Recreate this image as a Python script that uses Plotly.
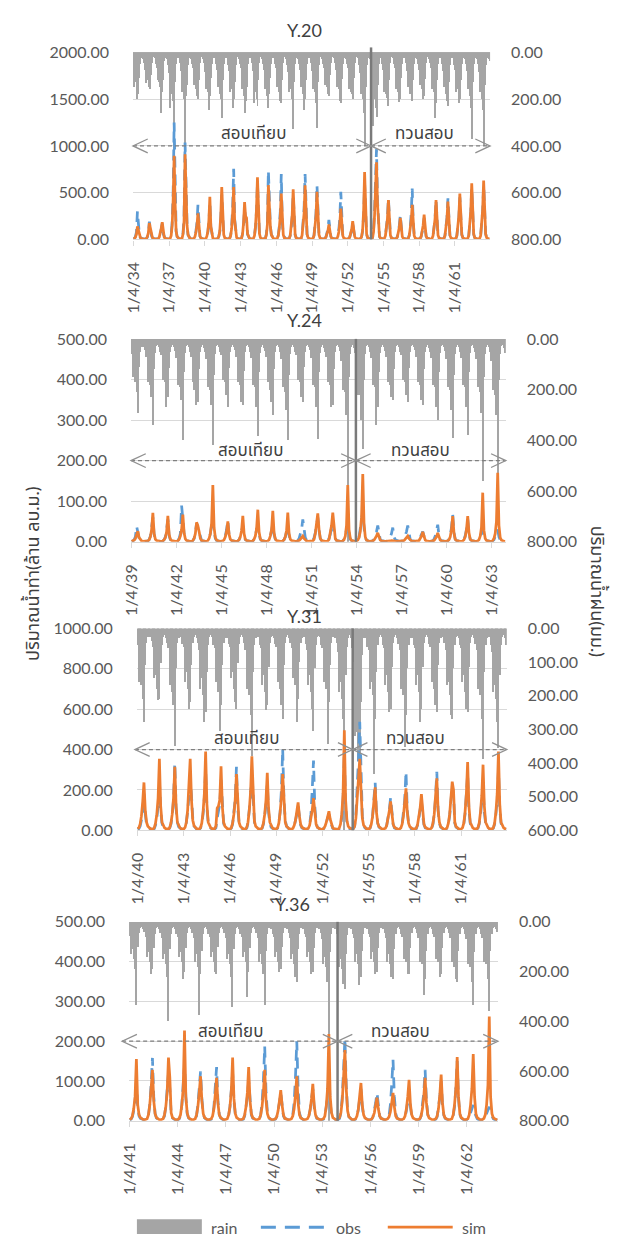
import plotly.graph_objects as go

W, H = 617, 1245

# ======================= DATA (monthly, water year Apr..Mar) =======================
# ---- Y.20 : 1/4/34 .. 3/64 ----
Y20_START = 34
Y20_RAIN = [
    [80, 150, 110, 130, 200, 180, 110, 50, 25, 20, 28, 45],
    [75, 134, 100, 120, 150, 160, 100, 45, 22, 18, 26, 50],
    [70, 120, 130, 150, 260, 170, 120, 40, 24, 20, 30, 55],
    [90, 239, 140, 180, 210, 442, 130, 50, 25, 18, 26, 45],
    [80, 170, 150, 200, 435, 190, 140, 55, 24, 20, 28, 50],
    [70, 140, 120, 160, 190, 200, 120, 45, 22, 19, 30, 45],
    [85, 160, 130, 170, 246, 190, 110, 50, 25, 20, 27, 50],
    [75, 150, 140, 180, 200, 281, 120, 50, 24, 18, 26, 55],
    [80, 170, 150, 160, 239, 200, 130, 55, 23, 20, 29, 50],
    [70, 160, 130, 190, 260, 210, 150, 50, 25, 19, 27, 48],
    [80, 218, 140, 170, 200, 230, 120, 45, 23, 20, 28, 52],
    [75, 160, 120, 190, 240, 180, 110, 50, 24, 21, 26, 50],
    [70, 150, 130, 170, 210, 220, 120, 48, 23, 20, 30, 55],
    [85, 170, 140, 160, 200, 330, 130, 52, 25, 20, 28, 50],
    [75, 150, 120, 180, 246, 200, 120, 50, 24, 19, 27, 45],
    [80, 160, 150, 170, 220, 323, 130, 55, 23, 20, 29, 50],
    [70, 140, 110, 150, 180, 190, 100, 45, 23, 20, 26, 48],
    [75, 150, 130, 160, 210, 220, 115, 50, 24, 21, 28, 50],
    [70, 160, 120, 170, 180, 200, 110, 48, 23, 20, 27, 55],
    [90, 180, 140, 200, 260, 400, 150, 55, 25, 20, 30, 80],
    [100, 316, 150, 200, 240, 280, 140, 50, 24, 20, 28, 50],
    [75, 170, 130, 180, 195, 230, 120, 48, 23, 20, 26, 50],
    [70, 160, 120, 170, 215, 200, 110, 50, 24, 19, 27, 45],
    [80, 150, 130, 180, 180, 210, 120, 52, 25, 20, 29, 50],
    [75, 140, 120, 160, 200, 190, 115, 48, 23, 20, 28, 48],
    [70, 160, 130, 170, 281, 220, 120, 50, 24, 20, 26, 50],
    [80, 150, 140, 180, 210, 230, 130, 55, 25, 21, 27, 55],
    [75, 170, 130, 160, 220, 200, 120, 50, 24, 20, 28, 50],
    [80, 160, 150, 190, 240, 372, 130, 52, 25, 20, 29, 50],
    [85, 170, 140, 200, 250, 400, 140, 55, 24, 20, 28, 40],
]
Y20_OBS = [
    [5, 10, 30, 80, 300, 100, 40, 18, 10, 6, 4, 3],
    [4, 8, 25, 60, 190, 100, 45, 20, 10, 6, 4, 3],
    [4, 9, 25, 55, 110, 170, 60, 22, 10, 6, 4, 3],
    [5, 12, 50, 180, 500, 1250, 400, 90, 30, 15, 8, 6],
    [6, 14, 70, 250, 1035, 450, 160, 50, 20, 10, 7, 5],
    [5, 10, 30, 90, 180, 370, 120, 35, 15, 8, 5, 4],
    [4, 9, 30, 80, 180, 400, 130, 40, 15, 8, 5, 4],
    [4, 10, 30, 80, 220, 480, 160, 45, 18, 9, 6, 4],
    [5, 12, 45, 140, 350, 755, 220, 60, 20, 10, 6, 5],
    [6, 15, 60, 170, 315, 230, 200, 55, 20, 10, 6, 5],
    [5, 12, 40, 130, 300, 600, 200, 55, 20, 10, 6, 5],
    [5, 12, 60, 180, 735, 300, 140, 50, 18, 10, 6, 5],
    [5, 12, 45, 140, 300, 700, 180, 55, 18, 10, 6, 5],
    [5, 12, 40, 120, 240, 480, 160, 50, 18, 10, 6, 5],
    [5, 12, 45, 160, 330, 700, 200, 55, 20, 10, 6, 5],
    [5, 12, 45, 140, 280, 580, 180, 50, 18, 10, 6, 5],
    [5, 10, 25, 60, 110, 210, 80, 30, 12, 8, 5, 4],
    [4, 10, 35, 100, 230, 510, 150, 40, 15, 8, 5, 4],
    [4, 9, 25, 55, 100, 170, 80, 30, 12, 8, 5, 4],
    [4, 10, 30, 90, 250, 600, 220, 55, 20, 10, 6, 5],
    [6, 20, 90, 300, 550, 965, 420, 110, 30, 15, 8, 6],
    [5, 12, 40, 120, 230, 440, 150, 45, 18, 10, 6, 5],
    [4, 10, 30, 80, 150, 260, 110, 30, 12, 8, 5, 4],
    [5, 12, 45, 130, 280, 545, 180, 45, 15, 8, 5, 4],
    [4, 10, 30, 70, 130, 230, 100, 35, 14, 8, 5, 4],
    [5, 12, 40, 120, 220, 420, 150, 45, 18, 10, 6, 5],
    [5, 12, 40, 120, 230, 440, 150, 45, 18, 10, 6, 5],
    [5, 12, 40, 120, 230, 450, 160, 50, 20, 10, 6, 5],
    [5, 12, 40, 130, 280, 550, 190, 55, 20, 10, 6, 5],
    [5, 12, 40, 140, 300, 580, 200, 60, 20, 10, 6, 5],
]
Y20_SIM = [
    [6, 10, 25, 55, 140, 95, 45, 20, 10, 6, 4, 3],
    [4, 8, 30, 70, 175, 110, 50, 22, 10, 6, 4, 3],
    [4, 9, 25, 60, 120, 185, 70, 25, 12, 7, 4, 3],
    [5, 12, 40, 150, 420, 895, 380, 90, 30, 15, 8, 6],
    [6, 14, 60, 200, 910, 430, 150, 50, 20, 10, 7, 5],
    [5, 10, 30, 80, 150, 280, 110, 35, 15, 8, 5, 4],
    [4, 9, 35, 90, 200, 455, 140, 40, 15, 8, 5, 4],
    [4, 10, 30, 90, 250, 560, 180, 50, 18, 9, 6, 4],
    [5, 12, 40, 120, 290, 560, 200, 60, 20, 10, 6, 5],
    [6, 15, 60, 180, 400, 250, 230, 60, 20, 10, 6, 5],
    [5, 12, 40, 140, 320, 665, 220, 60, 20, 10, 6, 5],
    [5, 12, 50, 160, 580, 280, 140, 50, 18, 10, 6, 5],
    [5, 12, 40, 120, 250, 490, 160, 50, 18, 10, 6, 5],
    [5, 12, 40, 130, 260, 535, 170, 50, 18, 10, 6, 5],
    [5, 12, 45, 150, 280, 580, 190, 55, 20, 10, 6, 5],
    [5, 12, 40, 120, 250, 510, 170, 50, 18, 10, 6, 5],
    [5, 10, 25, 50, 90, 160, 75, 30, 12, 8, 5, 4],
    [4, 10, 30, 80, 170, 330, 130, 40, 15, 8, 5, 4],
    [4, 9, 25, 60, 110, 195, 90, 30, 12, 8, 5, 4],
    [4, 10, 30, 100, 300, 720, 250, 60, 20, 10, 6, 5],
    [6, 20, 80, 250, 460, 825, 380, 100, 30, 15, 8, 6],
    [5, 12, 40, 120, 220, 420, 150, 45, 18, 10, 6, 5],
    [4, 10, 25, 70, 130, 230, 100, 30, 12, 8, 5, 4],
    [5, 12, 40, 100, 200, 370, 140, 40, 15, 8, 5, 4],
    [4, 10, 30, 80, 150, 265, 110, 35, 14, 8, 5, 4],
    [5, 12, 40, 120, 220, 420, 150, 45, 18, 10, 6, 5],
    [5, 12, 40, 120, 220, 405, 150, 45, 18, 10, 6, 5],
    [5, 12, 40, 130, 250, 490, 170, 50, 20, 10, 6, 5],
    [5, 12, 40, 140, 300, 600, 200, 55, 20, 10, 6, 5],
    [5, 12, 40, 150, 320, 630, 210, 60, 20, 10, 6, 5],
]

# ---- Y.24 : 1/4/39 .. 3/64 ----
Y24_START = 39
Y24_RAIN = [
    [60, 150, 120, 170, 210, 290, 110, 50, 30, 25, 32, 45],
    [70, 170, 140, 180, 230, 340, 120, 55, 28, 24, 30, 50],
    [65, 160, 130, 170, 270, 230, 115, 50, 30, 25, 32, 48],
    [75, 180, 150, 190, 240, 400, 130, 55, 28, 24, 30, 50],
    [70, 170, 200, 180, 260, 250, 120, 52, 30, 25, 34, 52],
    [80, 190, 160, 200, 260, 417, 140, 58, 29, 24, 30, 50],
    [65, 160, 140, 170, 220, 270, 115, 50, 30, 25, 32, 45],
    [70, 170, 150, 180, 250, 260, 125, 52, 28, 24, 30, 50],
    [75, 180, 160, 190, 270, 383, 130, 55, 30, 25, 34, 48],
    [70, 170, 150, 200, 250, 300, 120, 52, 29, 24, 30, 50],
    [80, 190, 170, 210, 280, 400, 140, 58, 30, 25, 32, 52],
    [65, 160, 140, 170, 230, 250, 110, 50, 28, 24, 30, 45],
    [75, 180, 160, 190, 270, 395, 130, 55, 30, 25, 34, 50],
    [70, 170, 150, 180, 270, 260, 120, 52, 29, 24, 30, 48],
    [85, 200, 170, 210, 300, 800, 150, 60, 30, 25, 35, 55],
    [90, 220, 180, 220, 320, 435, 160, 60, 28, 24, 30, 50],
    [75, 180, 160, 190, 340, 270, 130, 55, 30, 25, 32, 48],
    [70, 170, 150, 180, 230, 240, 120, 52, 29, 24, 30, 50],
    [65, 160, 140, 170, 220, 250, 115, 50, 28, 25, 32, 45],
    [70, 170, 150, 180, 240, 260, 120, 52, 30, 24, 34, 50],
    [75, 180, 160, 190, 270, 320, 130, 55, 29, 25, 30, 48],
    [80, 190, 170, 200, 280, 390, 140, 58, 30, 24, 32, 50],
    [75, 180, 160, 190, 270, 380, 130, 55, 28, 25, 34, 52],
    [80, 190, 170, 210, 290, 560, 150, 60, 30, 24, 30, 50],
    [85, 200, 180, 220, 300, 534, 160, 60, 29, 25, 35, 55],
]
Y24_OBS = [
    [1, 2, 5, 12, 38, 20, 8, 3, 2, 1, 1, 1],
    [1, 2, 5, 14, 35, 60, 18, 6, 3, 2, 1, 1],
    [1, 2, 5, 12, 30, 55, 15, 5, 3, 2, 1, 1],
    [1, 3, 8, 20, 89, 50, 20, 7, 3, 2, 1, 1],
    [1, 3, 8, 22, 45, 35, 22, 8, 3, 2, 1, 1],
    [1, 3, 8, 20, 40, 60, 25, 8, 3, 2, 1, 1],
    [1, 2, 6, 14, 30, 52, 16, 6, 3, 2, 1, 1],
    [1, 2, 5, 12, 25, 40, 15, 5, 3, 2, 1, 1],
    [1, 2, 6, 15, 30, 40, 20, 6, 3, 2, 1, 1],
    [1, 2, 6, 14, 28, 45, 18, 6, 3, 2, 1, 1],
    [1, 2, 5, 12, 25, 40, 16, 5, 3, 2, 1, 1],
    [1, 3, 8, 20, 30, 55, 25, 10, 4, 2, 1, 1],
    [1, 3, 10, 22, 40, 60, 28, 8, 3, 2, 1, 1],
    [1, 3, 8, 18, 35, 50, 25, 8, 3, 2, 1, 1],
    [1, 2, 6, 15, 30, 45, 20, 6, 3, 2, 1, 1],
    [2, 5, 12, 30, 55, 75, 35, 10, 4, 2, 1, 1],
    [1, 2, 6, 15, 25, 40, 15, 5, 3, 2, 1, 1],
    [1, 2, 5, 12, 20, 35, 12, 5, 3, 2, 1, 1],
    [1, 2, 6, 14, 25, 40, 15, 5, 3, 2, 1, 1],
    [1, 2, 5, 10, 18, 25, 10, 4, 2, 1, 1, 1],
    [1, 2, 6, 14, 28, 42, 15, 5, 3, 2, 1, 1],
    [1, 2, 6, 15, 35, 67, 22, 6, 3, 2, 1, 1],
    [1, 2, 6, 15, 30, 55, 20, 6, 3, 2, 1, 1],
    [1, 2, 5, 12, 20, 30, 12, 5, 3, 2, 1, 1],
    [1, 2, 5, 12, 20, 30, 12, 5, 3, 2, 1, 1],
]
Y24_SIM = [
    [1, 2, 4, 8, 15, 26, 10, 4, 2, 1, 1, 1],
    [1, 2, 5, 12, 30, 71, 20, 6, 3, 2, 1, 1],
    [1, 2, 5, 10, 25, 64, 18, 6, 3, 2, 1, 1],
    [1, 2, 6, 14, 30, 67, 22, 7, 3, 2, 1, 1],
    [1, 3, 8, 20, 48, 40, 25, 8, 3, 2, 1, 1],
    [1, 3, 8, 20, 45, 140, 35, 10, 4, 2, 1, 1],
    [1, 2, 5, 12, 25, 50, 18, 6, 3, 2, 1, 1],
    [1, 2, 5, 12, 28, 64, 20, 6, 3, 2, 1, 1],
    [1, 2, 6, 14, 32, 79, 24, 7, 3, 2, 1, 1],
    [1, 2, 5, 14, 30, 76, 22, 7, 3, 2, 1, 1],
    [1, 2, 5, 12, 28, 72, 20, 6, 3, 2, 1, 1],
    [1, 2, 3, 6, 10, 14, 8, 4, 2, 1, 1, 1],
    [1, 2, 6, 20, 45, 70, 30, 8, 3, 2, 1, 1],
    [1, 2, 6, 20, 40, 72, 38, 8, 3, 2, 1, 1],
    [1, 2, 5, 14, 40, 140, 30, 8, 3, 2, 1, 1],
    [2, 4, 10, 25, 60, 167, 45, 12, 4, 2, 1, 1],
    [1, 2, 4, 8, 14, 22, 10, 4, 2, 1, 1, 1],
    [1, 1, 2, 2, 3, 3, 2, 1, 1, 1, 1, 1],
    [1, 2, 3, 6, 10, 14, 8, 4, 2, 1, 1, 1],
    [1, 2, 3, 7, 14, 24, 10, 4, 2, 1, 1, 1],
    [1, 2, 3, 7, 12, 22, 9, 4, 2, 1, 1, 1],
    [1, 2, 5, 12, 30, 63, 22, 6, 3, 2, 1, 1],
    [1, 2, 5, 12, 30, 63, 22, 6, 3, 2, 1, 1],
    [1, 2, 5, 14, 35, 121, 28, 8, 3, 2, 1, 1],
    [1, 3, 8, 20, 50, 170, 40, 10, 4, 2, 1, 1],
]

# ---- Y.31 : 1/4/40 .. 3/64 ----
Y31_START = 40
Y31_RAIN = [
    [50, 160, 130, 170, 210, 278, 110, 45, 28, 22, 28, 40],
    [55, 150, 140, 180, 213, 210, 105, 50, 27, 21, 30, 45],
    [60, 170, 150, 190, 230, 351, 120, 45, 29, 23, 27, 48],
    [55, 160, 130, 180, 240, 220, 110, 46, 28, 22, 29, 45],
    [65, 180, 150, 200, 280, 250, 130, 50, 27, 21, 28, 50],
    [60, 160, 140, 190, 307, 230, 110, 45, 30, 23, 30, 48],
    [55, 150, 130, 180, 220, 240, 105, 47, 28, 22, 27, 45],
    [65, 180, 160, 200, 260, 380, 130, 50, 29, 21, 28, 50],
    [60, 170, 140, 190, 243, 230, 115, 45, 27, 23, 29, 48],
    [55, 160, 150, 180, 230, 270, 110, 46, 28, 22, 30, 45],
    [60, 150, 130, 170, 280, 210, 100, 45, 30, 21, 27, 48],
    [65, 170, 140, 190, 240, 307, 120, 50, 28, 23, 28, 50],
    [60, 160, 130, 180, 345, 220, 110, 45, 27, 22, 29, 45],
    [70, 190, 160, 210, 270, 600, 140, 55, 29, 22, 30, 60],
    [100, 320, 260, 310, 395, 440, 220, 80, 30, 23, 31, 55],
    [65, 180, 160, 200, 434, 270, 130, 50, 28, 21, 28, 50],
    [60, 170, 140, 190, 250, 240, 115, 45, 27, 22, 29, 48],
    [65, 180, 150, 200, 355, 260, 120, 50, 29, 23, 30, 50],
    [60, 170, 140, 190, 280, 240, 115, 46, 28, 22, 27, 48],
    [55, 160, 150, 180, 230, 250, 110, 45, 30, 21, 28, 45],
    [65, 170, 160, 200, 260, 270, 120, 50, 28, 23, 29, 50],
    [60, 160, 140, 190, 240, 250, 115, 45, 27, 22, 30, 48],
    [65, 180, 160, 200, 270, 390, 130, 50, 29, 21, 28, 50],
    [70, 190, 170, 210, 280, 356, 140, 50, 28, 22, 29, 50],
]
Y31_OBS = [
    [5, 8, 20, 50, 100, 180, 80, 30, 15, 10, 6, 4],
    [5, 8, 25, 60, 120, 250, 100, 35, 15, 10, 6, 4],
    [5, 10, 30, 70, 150, 333, 110, 40, 18, 10, 6, 4],
    [5, 10, 40, 90, 180, 250, 170, 60, 20, 10, 6, 4],
    [5, 10, 30, 80, 160, 300, 110, 40, 18, 10, 6, 4],
    [5, 12, 60, 90, 130, 250, 100, 35, 15, 10, 6, 4],
    [5, 10, 30, 80, 150, 314, 110, 40, 18, 10, 6, 4],
    [5, 10, 35, 90, 170, 300, 120, 40, 18, 10, 6, 4],
    [5, 10, 30, 70, 130, 230, 90, 35, 15, 10, 6, 4],
    [5, 10, 35, 90, 200, 403, 150, 50, 20, 10, 6, 4],
    [5, 8, 20, 45, 80, 120, 60, 25, 12, 8, 5, 4],
    [5, 10, 30, 80, 200, 346, 120, 40, 15, 8, 5, 4],
    [5, 8, 20, 40, 60, 80, 45, 20, 10, 6, 5, 4],
    [5, 8, 25, 60, 150, 380, 120, 40, 15, 8, 6, 4],
    [8, 20, 80, 200, 350, 537, 250, 70, 25, 12, 8, 6],
    [5, 10, 30, 70, 140, 236, 90, 35, 15, 8, 6, 4],
    [5, 8, 25, 60, 100, 160, 70, 30, 12, 8, 5, 4],
    [5, 10, 30, 80, 150, 290, 100, 35, 15, 8, 6, 4],
    [5, 8, 25, 55, 95, 150, 70, 28, 12, 8, 5, 4],
    [5, 10, 30, 80, 160, 290, 100, 35, 15, 8, 6, 4],
    [5, 10, 30, 70, 130, 220, 180, 35, 15, 8, 6, 4],
    [5, 10, 30, 80, 160, 280, 100, 35, 15, 8, 6, 4],
    [5, 10, 30, 70, 130, 220, 90, 35, 15, 8, 6, 4],
    [5, 10, 30, 80, 150, 300, 110, 35, 15, 8, 6, 4],
]
Y31_SIM = [
    [8, 12, 30, 70, 140, 237, 100, 40, 20, 12, 8, 6],
    [6, 12, 35, 80, 160, 354, 120, 40, 20, 12, 8, 6],
    [6, 12, 35, 80, 160, 314, 120, 40, 20, 12, 8, 6],
    [6, 14, 40, 100, 200, 354, 150, 50, 22, 12, 8, 6],
    [6, 12, 35, 90, 180, 390, 130, 40, 20, 12, 8, 6],
    [8, 20, 110, 120, 150, 317, 120, 40, 20, 12, 8, 6],
    [6, 12, 35, 80, 150, 278, 110, 40, 20, 12, 8, 6],
    [6, 14, 40, 100, 190, 366, 140, 45, 20, 12, 8, 6],
    [6, 12, 35, 80, 150, 285, 110, 40, 20, 12, 8, 6],
    [6, 12, 35, 90, 160, 278, 120, 40, 20, 12, 8, 6],
    [6, 10, 25, 50, 90, 138, 70, 30, 15, 10, 7, 5],
    [6, 10, 25, 55, 100, 159, 80, 30, 15, 10, 7, 5],
    [5, 10, 20, 40, 70, 94, 55, 25, 12, 8, 6, 5],
    [5, 10, 30, 80, 180, 496, 150, 50, 20, 12, 8, 6],
    [8, 20, 60, 150, 250, 354, 200, 60, 25, 14, 9, 7],
    [6, 12, 30, 70, 130, 213, 90, 35, 18, 10, 7, 5],
    [6, 10, 25, 55, 95, 143, 70, 30, 15, 10, 7, 5],
    [6, 12, 30, 70, 125, 208, 90, 35, 18, 10, 7, 5],
    [6, 10, 28, 60, 110, 179, 80, 30, 15, 10, 7, 5],
    [6, 12, 35, 80, 150, 257, 100, 40, 18, 10, 7, 5],
    [6, 12, 35, 80, 150, 241, 200, 40, 18, 10, 7, 5],
    [6, 12, 35, 90, 180, 338, 120, 40, 20, 12, 8, 6],
    [6, 12, 35, 90, 170, 325, 120, 40, 20, 12, 8, 6],
    [6, 12, 35, 90, 180, 390, 130, 40, 20, 12, 8, 6],
]

# ---- Y.36 : 1/4/41 .. 3/64 ----
Y36_START = 41
Y36_RAIN = [
    [55, 130, 110, 150, 190, 333, 100, 45, 25, 20, 28, 40],
    [60, 140, 120, 160, 210, 190, 105, 48, 26, 19, 27, 45],
    [65, 150, 130, 170, 220, 399, 110, 50, 25, 21, 29, 48],
    [60, 140, 120, 160, 230, 200, 105, 45, 24, 20, 28, 45],
    [65, 160, 130, 180, 372, 210, 115, 50, 26, 19, 27, 50],
    [60, 140, 120, 160, 200, 210, 100, 45, 25, 21, 28, 45],
    [65, 150, 130, 170, 220, 340, 110, 48, 24, 20, 29, 48],
    [60, 140, 120, 160, 300, 200, 105, 45, 26, 19, 27, 45],
    [65, 160, 130, 170, 210, 333, 115, 50, 25, 21, 28, 50],
    [60, 140, 120, 160, 200, 190, 100, 45, 24, 20, 28, 45],
    [65, 150, 130, 170, 220, 240, 110, 48, 26, 19, 29, 48],
    [60, 140, 120, 160, 210, 200, 105, 45, 25, 21, 27, 45],
    [70, 170, 140, 180, 240, 800, 120, 50, 24, 20, 28, 50],
    [75, 180, 150, 190, 250, 270, 130, 52, 26, 19, 28, 50],
    [65, 160, 130, 170, 253, 220, 115, 48, 25, 21, 29, 48],
    [60, 150, 120, 160, 210, 200, 105, 45, 24, 20, 27, 45],
    [65, 160, 130, 170, 220, 230, 110, 48, 26, 19, 28, 48],
    [60, 150, 120, 160, 210, 210, 105, 45, 25, 21, 28, 45],
    [65, 160, 130, 170, 293, 230, 115, 50, 24, 20, 29, 50],
    [60, 150, 120, 160, 220, 210, 105, 45, 26, 19, 27, 45],
    [65, 160, 130, 180, 230, 240, 115, 48, 25, 21, 28, 48],
    [70, 170, 140, 180, 240, 333, 120, 50, 24, 20, 28, 50],
    [65, 160, 130, 170, 230, 359, 115, 48, 26, 19, 29, 40],
]
Y36_OBS = [
    [2, 4, 10, 25, 50, 100, 35, 12, 6, 4, 2, 2],
    [2, 4, 12, 40, 90, 158, 60, 18, 7, 4, 2, 2],
    [2, 4, 12, 35, 70, 120, 80, 18, 7, 4, 2, 2],
    [2, 5, 12, 40, 80, 140, 60, 18, 7, 4, 2, 2],
    [2, 4, 12, 40, 80, 124, 55, 18, 7, 4, 2, 2],
    [2, 4, 12, 35, 75, 135, 50, 16, 7, 4, 2, 2],
    [2, 4, 12, 35, 70, 120, 50, 16, 7, 4, 2, 2],
    [2, 4, 12, 35, 60, 100, 45, 15, 7, 4, 2, 2],
    [2, 4, 15, 45, 100, 187, 70, 20, 8, 4, 2, 2],
    [2, 4, 10, 25, 45, 70, 35, 12, 6, 4, 2, 2],
    [2, 4, 15, 45, 110, 200, 80, 20, 8, 4, 2, 2],
    [2, 4, 10, 28, 50, 80, 35, 14, 6, 4, 2, 2],
    [2, 4, 10, 30, 60, 125, 45, 15, 7, 4, 2, 2],
    [3, 6, 20, 60, 130, 207, 90, 25, 10, 5, 3, 2],
    [2, 4, 10, 28, 50, 80, 35, 12, 6, 4, 2, 2],
    [2, 4, 10, 25, 45, 70, 30, 12, 6, 4, 2, 2],
    [2, 4, 12, 40, 90, 153, 60, 18, 7, 4, 2, 2],
    [2, 4, 10, 25, 45, 75, 35, 12, 6, 4, 2, 2],
    [2, 4, 12, 35, 70, 128, 50, 16, 7, 4, 2, 2],
    [2, 4, 10, 30, 60, 100, 40, 14, 6, 4, 2, 2],
    [2, 4, 12, 35, 80, 150, 55, 16, 7, 4, 2, 2],
    [2, 4, 10, 20, 30, 40, 20, 10, 5, 3, 2, 2],
    [2, 4, 10, 20, 30, 35, 20, 10, 5, 3, 2, 2],
]
Y36_SIM = [
    [3, 5, 12, 30, 60, 155, 40, 15, 8, 5, 3, 2],
    [3, 5, 15, 40, 80, 128, 50, 18, 8, 5, 3, 2],
    [3, 5, 15, 35, 70, 159, 110, 20, 8, 5, 3, 2],
    [3, 6, 15, 40, 80, 227, 60, 20, 8, 5, 3, 2],
    [3, 5, 15, 35, 70, 112, 50, 18, 8, 5, 3, 2],
    [3, 5, 12, 30, 65, 108, 45, 15, 8, 5, 3, 2],
    [3, 5, 15, 35, 75, 159, 55, 18, 8, 5, 3, 2],
    [3, 5, 15, 35, 70, 135, 50, 18, 8, 5, 3, 2],
    [3, 5, 15, 35, 70, 128, 50, 18, 8, 5, 3, 2],
    [3, 5, 10, 25, 50, 77, 40, 15, 6, 4, 3, 2],
    [3, 5, 12, 30, 65, 112, 45, 15, 7, 4, 3, 2],
    [3, 5, 12, 28, 55, 93, 40, 15, 7, 4, 3, 2],
    [3, 5, 12, 35, 80, 218, 60, 20, 8, 5, 3, 2],
    [4, 8, 20, 50, 110, 178, 80, 25, 10, 6, 4, 3],
    [3, 5, 12, 28, 55, 95, 40, 15, 7, 4, 3, 2],
    [3, 4, 10, 20, 40, 58, 30, 12, 6, 4, 3, 2],
    [3, 5, 10, 22, 45, 70, 35, 12, 6, 4, 3, 2],
    [3, 5, 12, 30, 60, 103, 42, 15, 7, 4, 3, 2],
    [3, 5, 12, 30, 60, 108, 45, 15, 7, 4, 3, 2],
    [3, 5, 12, 30, 65, 116, 45, 15, 7, 4, 3, 2],
    [3, 5, 15, 40, 80, 160, 60, 18, 8, 5, 3, 2],
    [3, 5, 15, 40, 80, 168, 60, 18, 8, 5, 3, 2],
    [3, 6, 15, 40, 90, 262, 60, 18, 8, 5, 3, 2],
]

SERIES_NAMES = ["rain", "obs", "sim"]
PANEL_TITLES = ["Y.20", "Y.24", "Y.31", "Y.36"]
PERIOD_LABELS = ["สอบเทียบ", "ทวนสอบ"]
Y_LEFT_TITLE = "ปริมาณน้ำท่า(ล้าน ลบ.ม.)"
Y_RIGHT_TITLE = "ปริมาณน้ำฝน(มม.)"
SPLIT_YEAR = 54          # calibration / validation split at 1/4/54
TICK_EVERY_YEARS = 3

# ======================= LAYOUT / STYLE =======================
C_RAIN = "#a5a5a5"
C_OBS = "#5b9bd5"
C_SIM = "#ed7d31"
C_GRID = "#d9d9d9"
C_TXT = "#595959"
C_ARROW = "#7f7f7f"
FONT = "Lato, 'Noto Sans', 'Noto Sans Thai', 'Loma', 'Garuda', sans-serif"

panels = [
    dict(title=PANEL_TITLES[0], start=Y20_START, rain=Y20_RAIN, obs=Y20_OBS, sim=Y20_SIM,
         fmax=2000, fdt=500, rmax=800, rdt=200, level=1000,
         box=(125, 488, 43, 233), tpos=(299, 20), l1=(248, 124), l2=(421, 124), left_tip=125),
    dict(title=PANEL_TITLES[1], start=Y24_START, rain=Y24_RAIN, obs=Y24_OBS, sim=Y24_SIM,
         fmax=500, fdt=100, rmax=800, rdt=200, level=200,
         box=(123, 504, 334, 540), tpos=(299, 315), l1=(244, 446), l2=(417, 446), left_tip=123),
    dict(title=PANEL_TITLES[2], start=Y31_START, rain=Y31_RAIN, obs=Y31_OBS, sim=Y31_SIM,
         fmax=1000, fdt=200, rmax=600, rdt=100, level=400,
         box=(129, 505, 628, 833), tpos=(299, 615), l1=(240, 739), l2=(412, 739), left_tip=127),
    dict(title=PANEL_TITLES[3], start=Y36_START, rain=Y36_RAIN, obs=Y36_OBS, sim=Y36_SIM,
         fmax=500, fdt=100, rmax=800, rdt=200, level=200,
         box=(121, 496, 926, 1128), tpos=(287, 908), l1=(224, 1036), l2=(397, 1036), left_tip=114),
]


def fx(px):
    return px / W


def fy(py):
    return 1 - py / H


fig = go.Figure()
shapes = []
annotations = []
layout_axes = {}

for k, p in enumerate(panels, start=1):
    rain = sum(p["rain"], [])
    obs = sum(p["obs"], [])
    sim = sum(p["sim"], [])
    n = len(sim)
    idx = list(range(n))
    x0, x1, y0, y1 = p["box"]
    xa = "x" if k == 1 else f"x{k}"
    ya_rain = "y" if k == 1 else f"y{k}"
    ya_flow = f"y{k + 4}"

    fig.add_trace(go.Bar(x=idx, y=rain, name=SERIES_NAMES[0], marker=dict(color=C_RAIN, line=dict(width=0)),
                         width=1.0, xaxis=xa, yaxis=ya_rain, showlegend=False))
    fig.add_trace(go.Scatter(x=idx, y=obs, name=SERIES_NAMES[1], mode="lines",
                             line=dict(color=C_OBS, width=2.75, dash="11px,7px"),
                             xaxis=xa, yaxis=ya_flow, showlegend=False))
    fig.add_trace(go.Scatter(x=idx, y=sim, name=SERIES_NAMES[2], mode="lines",
                             line=dict(color=C_SIM, width=2.75),
                             xaxis=xa, yaxis=ya_flow, showlegend=False))

    tickvals = list(range(0, n, 12 * TICK_EVERY_YEARS))
    ticktext = [f"1/4/{p['start'] + TICK_EVERY_YEARS * j}" for j in range(len(tickvals))]

    xkey = "xaxis" if k == 1 else f"xaxis{k}"
    ykey_rain = "yaxis" if k == 1 else f"yaxis{k}"
    ykey_flow = f"yaxis{k + 4}"

    tf = dict(size=16, color=C_TXT, family=FONT)
    layout_axes[xkey] = dict(
        domain=[fx(x0), fx(x1)], range=[-0.5, n - 0.5], anchor=ya_rain,
        tickvals=tickvals, ticktext=ticktext, tickangle=-90, tickfont=tf,
        showline=True, linecolor=C_GRID, linewidth=1.3,
        ticks="outside", ticklen=5, tickcolor=C_GRID, tickwidth=1.3,
        showgrid=False, zeroline=False, ticklabelstandoff=10,
    )
    layout_axes[ykey_rain] = dict(
        domain=[fy(y1), fy(y0)], range=[p["rmax"], 0], anchor=xa, side="right",
        tickvals=list(range(0, p["rmax"] + 1, p["rdt"])), tickformat=".2f", tickfont=tf,
        showgrid=False, zeroline=False, showline=False, ticks="", ticklabelstandoff=20,
    )
    layout_axes[ykey_flow] = dict(
        overlaying=ya_rain, anchor=xa, side="left", range=[0, p["fmax"]],
        tickvals=list(range(0, p["fmax"] + 1, p["fdt"])), tickformat=".2f", tickfont=tf,
        showgrid=True, gridcolor=C_GRID, gridwidth=1.3,
        zeroline=False, showline=False, ticks="", ticklabelstandoff=23,
    )

    def mx(i, x0=x0, x1=x1, n=n):
        return x0 + (i + 0.5) / n * (x1 - x0)

    def vy(v, y0=y0, y1=y1, fmax=p["fmax"]):
        return y1 - v / fmax * (y1 - y0)

    split_i = (SPLIT_YEAR - p["start"]) * 12
    xs = mx(split_i - 0.5)
    xr = mx(n - 0.5)
    xl = p["left_tip"]
    ly = vy(p["level"])

    shapes.append(dict(type="line", xref="paper", yref="paper",
                       x0=fx(xs), x1=fx(xs), y0=fy(y0 - 5 if k == 1 else y0), y1=fy(y1),
                       line=dict(color="#7a7a7a", width=2.5), layer="above"))
    for a, b in ((xl, xs), (xs, xr)):
        shapes.append(dict(type="line", xref="paper", yref="paper",
                           x0=fx(a), x1=fx(b), y0=fy(ly), y1=fy(ly),
                           line=dict(color=C_ARROW, width=1.3, dash="4px,3px"), layer="above"))
    ch, hh = 15, 7
    for tip, d in ((xl, 1), (xs, -1), (xs, 1), (xr, -1)):
        path = (f"M {fx(tip + d * ch)},{fy(ly - hh)} L {fx(tip)},{fy(ly)} "
                f"L {fx(tip + d * ch)},{fy(ly + hh)}")
        shapes.append(dict(type="path", xref="paper", yref="paper", path=path,
                           line=dict(color="#909090", width=1.3), layer="above"))

    annotations.append(dict(text=p["title"], x=fx(p["tpos"][0]), y=fy(p["tpos"][1]),
                            xref="paper", yref="paper", showarrow=False, xanchor="center",
                            yanchor="middle", font=dict(size=18, color="#404040", family=FONT)))
    for lab, pos in zip(PERIOD_LABELS, (p["l1"], p["l2"])):
        annotations.append(dict(text=lab, x=fx(pos[0]), y=fy(pos[1]), xref="paper", yref="paper",
                                showarrow=False, xanchor="center", yanchor="middle",
                                font=dict(size=17, color="#404040", family=FONT)))

annotations.append(dict(text=Y_LEFT_TITLE, x=fx(22), y=fy(572), xref="paper", yref="paper",
                        showarrow=False, textangle=-90, xanchor="center", yanchor="middle",
                        font=dict(size=18, color="#404040", family=FONT)))
annotations.append(dict(text=Y_RIGHT_TITLE, x=fx(598), y=fy(590), xref="paper", yref="paper",
                        showarrow=False, textangle=90, xanchor="center", yanchor="middle",
                        font=dict(size=18, color="#404040", family=FONT)))

LEG_Y = 1236
shapes.append(dict(type="rect", xref="paper", yref="paper", x0=fx(129), x1=fx(195),
                   y0=fy(1243), y1=fy(1228), fillcolor=C_RAIN, line=dict(width=0)))
shapes.append(dict(type="line", xref="paper", yref="paper", x0=fx(255), x1=fx(321),
                   y0=fy(LEG_Y), y1=fy(LEG_Y), line=dict(color=C_OBS, width=3, dash="15px,9px")))
shapes.append(dict(type="line", xref="paper", yref="paper", x0=fx(384), x1=fx(450),
                   y0=fy(LEG_Y), y1=fy(LEG_Y), line=dict(color=C_SIM, width=2.75)))
for txt, px in zip(SERIES_NAMES, (202, 329, 457)):
    annotations.append(dict(text=txt, x=fx(px), y=fy(LEG_Y), xref="paper", yref="paper",
                            showarrow=False, xanchor="left", yanchor="middle",
                            font=dict(size=16, color=C_TXT, family=FONT)))

fig.update_layout(
    width=W, height=H, autosize=False,
    margin=dict(l=0, r=0, t=0, b=0),
    paper_bgcolor="white", plot_bgcolor="white",
    bargap=0, barmode="overlay",
    showlegend=False,
    shapes=shapes, annotations=annotations,
    font=dict(family=FONT, color=C_TXT),
    **layout_axes,
)

fig.write_html("out.html", post_script="document.body.style.margin='0px';",
               config={"displayModeBar": False})
